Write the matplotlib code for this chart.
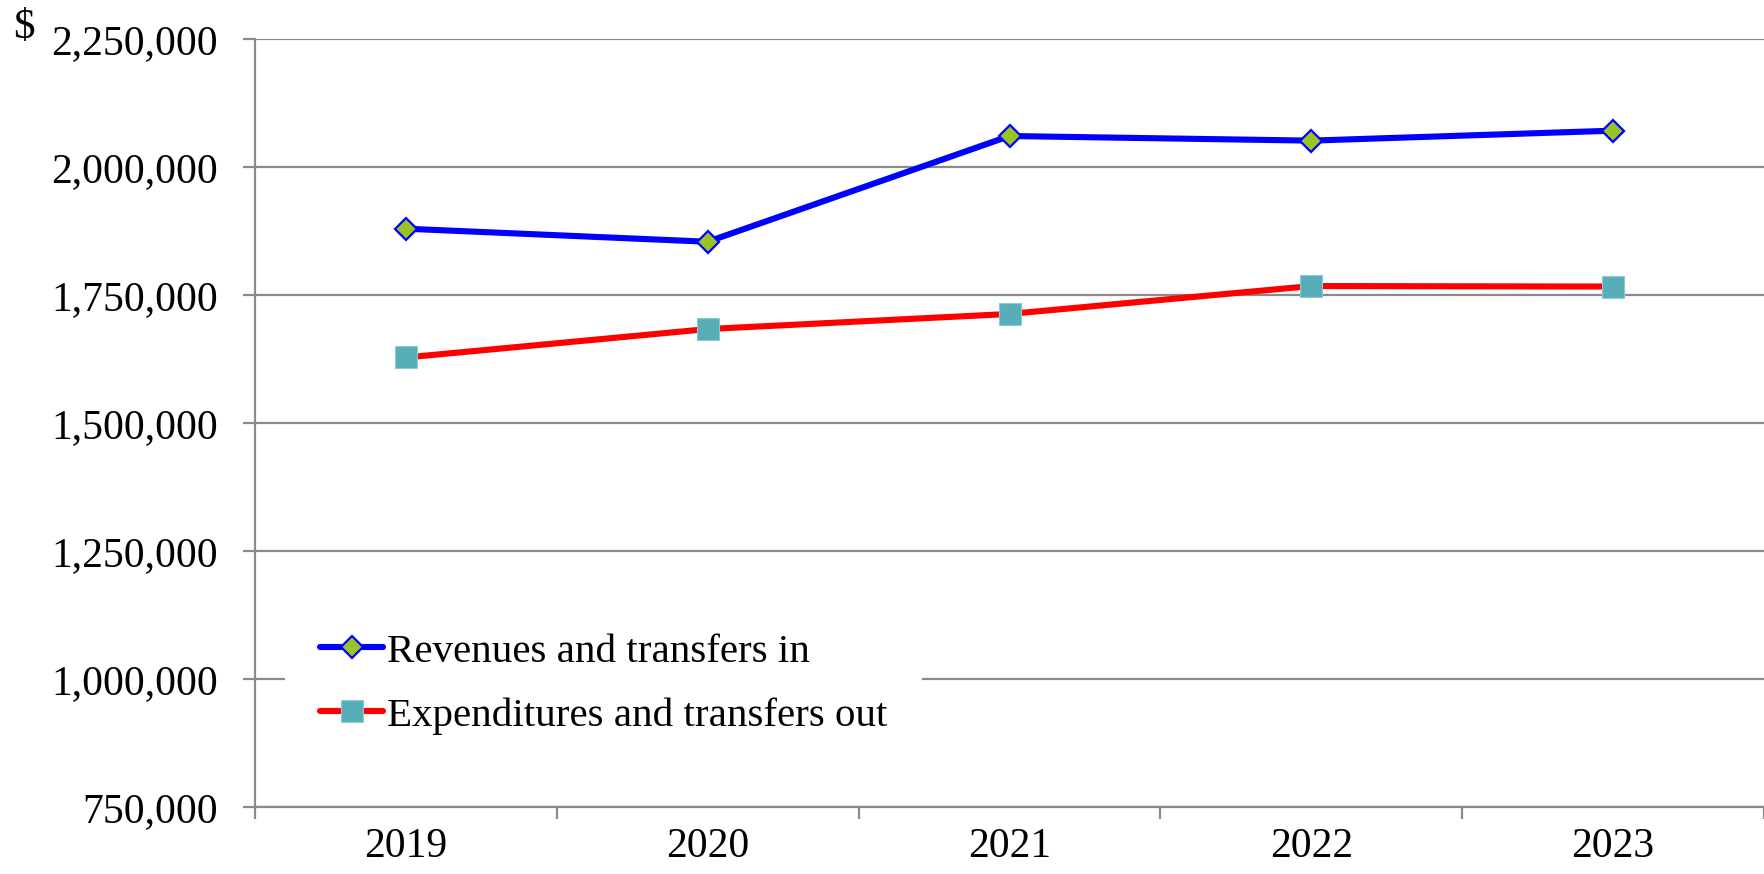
import matplotlib
matplotlib.use("Agg")
import matplotlib.pyplot as plt
from matplotlib.ticker import FuncFormatter, FixedLocator

years = ["2019", "2020", "2021", "2022", "2023"]
revenues = [1879500, 1854000, 2060500, 2051500, 2071000]
expenditures = [1628000, 1683500, 1713000, 1767500, 1766500]
y_ticks = [750000, 1000000, 1250000, 1500000, 1750000, 2000000, 2250000]
series_names = ["Revenues and transfers in", "Expenditures and transfers out"]

plt.rcParams['font.family'] = ['Liberation Serif', 'DejaVu Serif']

fig = plt.figure(figsize=(17.64, 8.74), dpi=100)
ax = fig.add_axes([255/1764, 1-807/874, 1-255/1764, (807-39)/874])

x = list(range(len(years)))
ax.plot(x, revenues, color='#0000FF', lw=4.4, marker='D', markersize=11,
        markerfacecolor='#9AC423', markeredgecolor='#0000FF', markeredgewidth=1.6,
        label=series_names[0], zorder=3, solid_capstyle='round')
ax.plot(x, expenditures, color='#FF0000', lw=4.4, marker='s', markersize=16,
        markerfacecolor='#58AEB8', markeredgecolor='#8CCAD2', markeredgewidth=0.8,
        label=series_names[1], zorder=3, solid_capstyle='round')

ax.set_xlim(-0.5, len(years) - 0.5)
ax.set_ylim(y_ticks[0], y_ticks[-1])
ax.yaxis.set_major_locator(FixedLocator(y_ticks))
ax.yaxis.set_major_formatter(FuncFormatter(lambda v, p: f"{int(v):,}"))
ax.grid(axis='y', color='#8A8A8A', lw=1.6, zorder=0)
ax.set_axisbelow(True)

ax.set_xticks([i - 0.5 for i in range(len(years) + 1)])
ax.set_xticklabels([])
ax.set_xticks(x, minor=True)
ax.set_xticklabels(years, minor=True)
ax.tick_params(axis='x', which='major', length=8.6, width=1.6, color='#8A8A8A', direction='out')
ax.tick_params(axis='x', which='minor', length=0, pad=15, labelsize=30)
ax.tick_params(axis='y', length=8.6, width=1.6, color='#8A8A8A', direction='out', pad=18, labelsize=30)

for s in ['top', 'right']:
    ax.spines[s].set_visible(False)
for s in ['left', 'bottom']:
    ax.spines[s].set_color('#8A8A8A')
    ax.spines[s].set_linewidth(1.6)

leg = ax.legend(loc='upper left', bbox_to_anchor=(30/1509, 1-(598-39)/768), fontsize=29.5,
                frameon=True, facecolor='white', edgecolor='none', framealpha=1,
                handlelength=1.55, handletextpad=0.08, labelspacing=0.65,
                borderpad=0.85, borderaxespad=0, fancybox=False)

fig.text(13/1764, 1-28/874, "$", fontsize=31, va='center', ha='left')

fig.savefig("out.png", dpi=100)
